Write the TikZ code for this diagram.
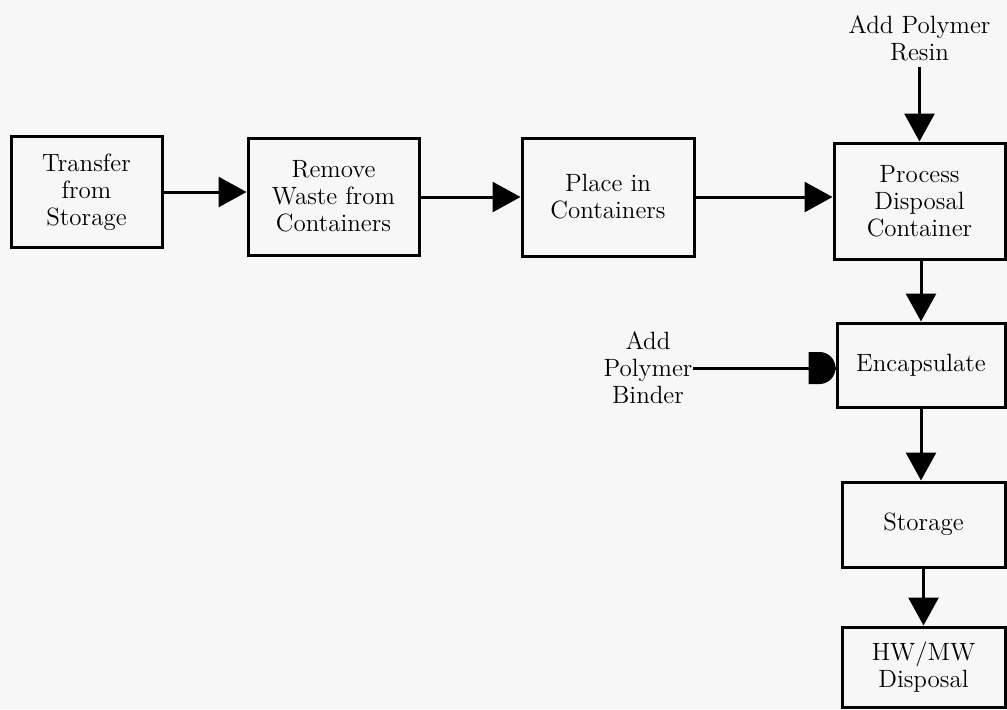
\documentclass[tikz,border=0pt]{standalone}
\usepackage{tikz}
\usetikzlibrary{arrows.meta}
\usepackage{xcolor}
\definecolor{paper}{RGB}{247,247,247}

\begin{document}
\begin{tikzpicture}[x=0.5pt,y=-0.5pt,>={Triangle[length=14pt,width=15pt]},
  every node/.style={font=\fontsize{12.5}{13.5}\selectfont,align=center},
  box/.style={draw,line width=1.5pt,inner sep=2pt},
  flow/.style={->,line width=1.5pt}]
  \fill[paper] (0,0) rectangle (1007,709);
  \useasboundingbox (0,0) rectangle (1007,709);

  \node[box,minimum width=75.5pt,minimum height=55.5pt] (T) at (86.5,192) {Transfer\\from\\Storage};
  \node[box,minimum width=85.5pt,minimum height=58.5pt] (R) at (333.5,196.5) {Remove\\Waste from\\Containers};
  \node[box,minimum width=86pt,minimum height=59pt] (P) at (608,197) {Place in\\Containers};
  \node[box,minimum width=85.5pt,minimum height=58pt] (D) at (919.5,201) {Process\\Disposal\\Container};
  \node[box,minimum width=84pt,minimum height=42pt] (E) at (921,365) {Encapsulate};
  \node[box,minimum width=81.5pt,minimum height=42.5pt] (S) at (923.5,524.5) {Storage};
  \node[box,minimum width=81.5pt,minimum height=40pt] (W) at (923.5,667) {HW/MW\\Disposal};

  \node[inner sep=3pt] (resin) at (919.5,38) {Add Polymer\\Resin};
  \node[inner sep=0pt] (binder) at (648,368) {Add\\Polymer\\Binder};

  \draw[flow] (T.east) -- (T.east -| R.west);
  \draw[flow] (R.east |- P.west) -- (P.west);
  \draw[flow] (P.east) -- (P.east -| D.west);
  \draw[flow] (resin.south) -- (D.north);
  \draw[flow] (D.south -| E.north) -- (E.north);
  \draw[flow] (E.south) -- (E.south |- S.north);
  \draw[flow] (S) -- (W);
  % binder feed ends in a round head
  \draw[line width=1.5pt] (binder.east) -- (binder.east -| E.west);
  \fill (binder.east -| E.west) ++(-13.5pt,8pt) -- ++(5.5pt,0)
    arc[start angle=90,end angle=-90,radius=8pt] -- ++(-5.5pt,0) -- cycle;
\end{tikzpicture}
\end{document}
